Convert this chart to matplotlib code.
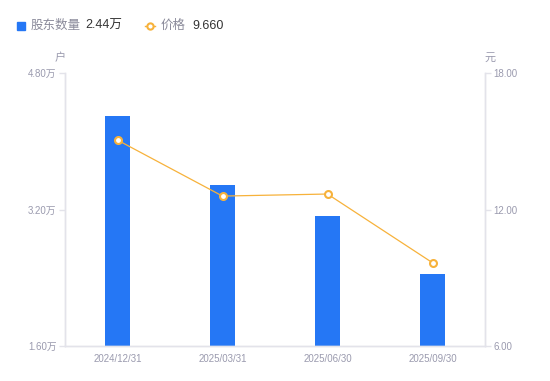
import matplotlib
matplotlib.use("Agg")
import matplotlib.pyplot as plt
from matplotlib.lines import Line2D

plt.rcParams['font.family'] = ['Liberation Sans', 'Noto Sans CJK SC', 'DejaVu Sans']

# data
dates = ['2024/12/31', '2025/03/31', '2025/06/30', '2025/09/30']
holders = [4.30, 3.49, 3.12, 2.44]      # 万户
price = [15.05, 12.59, 12.68, 9.66]     # 元
left_ticks = [1.60, 3.20, 4.80]
right_ticks = [6.00, 12.00, 18.00]

BLUE = '#2577F5'
ORANGE = '#F7B23B'
TICK = '#9A9AAE'
AXIS = '#E3E3EA'

fig = plt.figure(figsize=(5.5, 3.81), dpi=100)
ax = fig.add_axes([65 / 550, 35 / 381, 420 / 550, 273 / 381])
ax2 = ax.twinx()

x = list(range(len(dates)))
ax.bar(x, holders, width=0.24, color=BLUE, zorder=2)
ax.set_xlim(-0.5, 3.5)
ax.set_ylim(left_ticks[0], left_ticks[-1])
ax.set_yticks(left_ticks)
ax.set_yticklabels([f'{v:.2f}万' for v in left_ticks])
ax.set_xticks(x)
ax.set_xticklabels(dates)

ax2.plot(x, price, color=ORANGE, lw=0.9, marker='o', ms=5, mfc='white',
         mec=ORANGE, mew=1.5, zorder=3)
ax2.set_ylim(right_ticks[0], right_ticks[-1])
ax2.set_yticks(right_ticks)
ax2.set_yticklabels([f'{v:.2f}' for v in right_ticks])

for a in (ax, ax2):
    a.spines['top'].set_visible(False)
    for s in ('left', 'right', 'bottom'):
        a.spines[s].set_color(AXIS)
        a.spines[s].set_linewidth(1)
    a.tick_params(axis='y', colors=AXIS, labelcolor=TICK, labelsize=7, length=4, width=1, pad=2)
    a.tick_params(axis='x', length=0, labelcolor=TICK, labelsize=7, pad=6)

# axis unit labels
fig.text(60 / 550, 1 - 58 / 381, '户', color=TICK, fontsize=8, ha='center', va='center')
fig.text(490 / 550, 1 - 58 / 381, '元', color=TICK, fontsize=8, ha='center', va='center')

# legend row
ly = 1 - 26 / 381
fig.add_artist(Line2D([21 / 550], [ly], marker='s', ms=6, color=BLUE, lw=0))
fig.text(31 / 550, ly, '股东数量', color='#8A8A9A', fontsize=9, va='center')
fig.text(85 / 550, ly, '2.44万', color='#333333', fontsize=9, va='center')
fig.add_artist(Line2D([145 / 550, 155 / 550], [ly, ly], color=ORANGE, lw=1))
fig.add_artist(Line2D([150 / 550], [ly], marker='o', ms=4.5, mfc='white', mec=ORANGE, mew=1.5, lw=0))
fig.text(161 / 550, ly, '价格', color='#8A8A9A', fontsize=9, va='center')
fig.text(192 / 550, ly, '9.660', color='#333333', fontsize=9, va='center')

fig.savefig('out.png', dpi=100, facecolor='white')
